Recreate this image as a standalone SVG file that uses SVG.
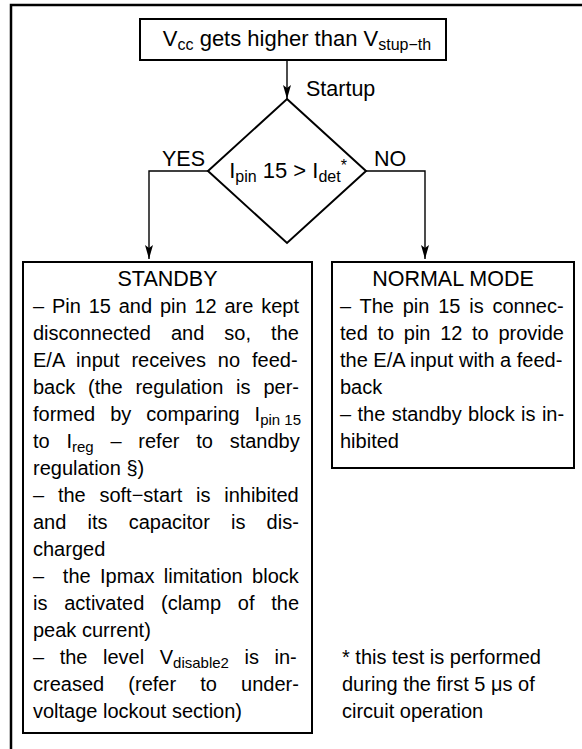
<svg xmlns="http://www.w3.org/2000/svg" width="582" height="749" viewBox="0 0 582 749">
<style>
text{font-family:"Liberation Sans",Arial,sans-serif;fill:#000}
.t{font-size:22px}
.h{font-size:21.5px}
.b{font-size:20px}
.s{font-size:15px}
.ss{font-size:16px}
.box{fill:#fff;stroke:#000;stroke-width:2}
.ln{fill:none;stroke:#000;stroke-width:1.4}
</style>
<defs>
<marker id="ah" markerUnits="userSpaceOnUse" markerWidth="16" markerHeight="10" refX="14" refY="5" orient="auto" viewBox="0 0 16 10">
<path d="M0,1 L14,5 L0,9 L3,5 Z" fill="#000"/>
</marker>
</defs>
<rect width="582" height="749" fill="#fff"/>
<path d="M11,749 V5 H582" fill="none" stroke="#000" stroke-width="2.5"/>
<g id="connectors">
<path class="ln" d="M287,60 V99" marker-end="url(#ah)"/>
<path class="ln" d="M208,171 H149 V259" marker-end="url(#ah)"/>
<path class="ln" d="M366,171 H425 V259" marker-end="url(#ah)"/>
<text class="h" x="306" y="96">Startup</text>
<text class="h" x="162" y="166">YES</text>
<text class="h" x="374" y="166">NO</text>
</g>
<g id="start">
<rect class="box" x="140" y="19" width="306" height="41"/>
<text class="t" x="297" y="46" text-anchor="middle">V<tspan class="ss" dy="4">cc</tspan><tspan dy="-4"> gets higher than V</tspan><tspan class="ss" dy="4">stup−th</tspan></text>
</g>
<g id="decision">
<polygon points="287,99 366,171 287,243 208,171" fill="#fff" stroke="#000" stroke-width="2"/>
<text class="t" x="288" y="178" text-anchor="middle">I<tspan class="ss" dy="4">pin</tspan><tspan dy="-4"> 15 &gt; I</tspan><tspan class="ss" dy="4">det</tspan><tspan class="ss" dy="-11">*</tspan></text>
</g>
<g id="standby">
<rect class="box" x="23" y="262" width="289" height="471"/>
<text class="h" x="167.5" y="286" text-anchor="middle">STANDBY</text>
<text class="b" x="33" y="313" word-spacing="2.26">– Pin 15 and pin 12 are kept</text>
<text class="b" x="33" y="340" word-spacing="14.5">disconnected and so, the</text>
<text class="b" x="33" y="367" word-spacing="6.4">E/A input receives no feed-</text>
<text class="b" x="33" y="394" word-spacing="7.3">back (the regulation is per-</text>
<text class="b" x="33" y="421" word-spacing="9.4">formed by comparing I<tspan class="s" dy="4" word-spacing="0">pin 15</tspan></text>
<text class="b" x="33" y="448" word-spacing="11.2">to I<tspan class="s" dy="4">reg</tspan><tspan dy="-4"> – refer to standby</tspan></text>
<text class="b" x="33" y="475">regulation §)</text>
<text class="b" x="33" y="502" word-spacing="8.2">– the soft−start is inhibited</text>
<text class="b" x="33" y="529" word-spacing="15.6">and its capacitor is dis-</text>
<text class="b" x="33" y="556">charged</text>
<text class="b" x="33" y="583" word-spacing="3.8" xml:space="preserve">–  the Ipmax limitation block</text>
<text class="b" x="33" y="610" word-spacing="11.2">is activated (clamp of the</text>
<text class="b" x="33" y="637">peak current)</text>
<text class="b" x="33" y="664" word-spacing="10">– the level V<tspan class="s" dy="4">disable2</tspan><tspan dy="-4"> is in-</tspan></text>
<text class="b" x="33" y="691" word-spacing="18.6">creased (refer to under-</text>
<text class="b" x="33" y="718">voltage lockout section)</text>
</g>
<g id="normal">
<rect class="box" x="332" y="262" width="242" height="206"/>
<text class="h" x="453" y="286" text-anchor="middle">NORMAL MODE</text>
<text class="b" x="340" y="313" word-spacing="3.2">– The pin 15 is connec-</text>
<text class="b" x="340" y="340" word-spacing="4.1">ted to pin 12 to provide</text>
<text class="b" x="340" y="367">the E/A input with a feed-</text>
<text class="b" x="340" y="394">back</text>
<text class="b" x="340" y="421" word-spacing="0.8">– the standby block is in-</text>
<text class="b" x="340" y="448">hibited</text>
</g>
<g id="footnote">
<text class="b" x="342" y="664" font-size="21px">* this test is performed</text>
<text class="b" x="342" y="691" font-size="21px">during the first 5 μs of</text>
<text class="b" x="342" y="718" font-size="21px">circuit operation</text>
</g>
</svg>
